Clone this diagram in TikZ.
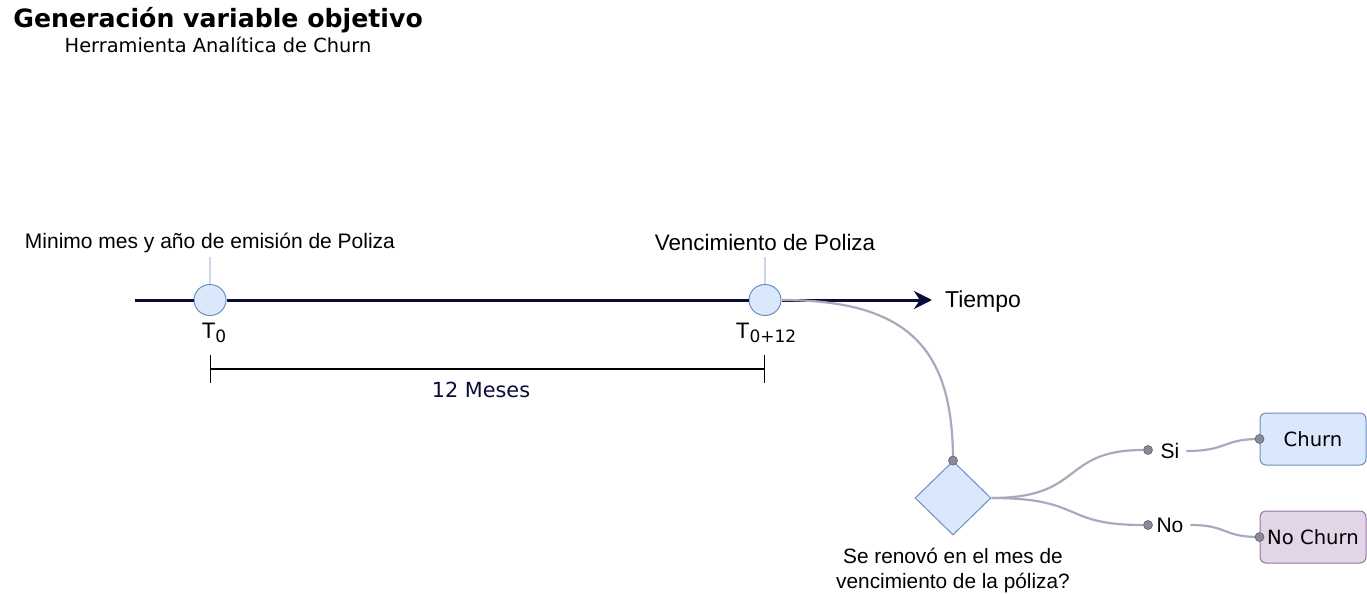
\documentclass[tikz,border=0pt]{standalone}
\usepackage{fontspec}
\setmainfont{Liberation Sans}
\newfontfamily\verd{DejaVu Sans}
\usetikzlibrary{arrows.meta, shapes.geometric, positioning}
\definecolor{navy}{RGB}{12,12,58}
\definecolor{bluefill}{HTML}{DAE8FC}
\definecolor{bluedraw}{HTML}{6C8EBF}
\definecolor{lilafill}{HTML}{E1D5E7}
\definecolor{liladraw}{HTML}{9673A6}
\definecolor{linkgray}{RGB}{172,168,188}
\definecolor{dotgray}{RGB}{140,136,155}
\definecolor{ticklite}{RGB}{205,215,230}
\newcommand{\fs}[1]{\fontsize{#1}{1.2\dimexpr#1pt\relax}\selectfont}

\begin{document}
\begin{tikzpicture}[x=0.5pt, y=-0.5pt,
  hito/.style={ellipse, draw=bluedraw, fill=bluefill, minimum width=16pt, minimum height=15.5pt, inner sep=0pt, line width=0.5pt},
  link/.style={draw=linkgray, line width=1.1pt},
  enddot/.style={circle, fill=dotgray, draw=dotgray!70!black, inner sep=0pt, minimum size=4.5pt, line width=0.3pt},
  caja/.style={rounded corners=3pt, minimum width=53pt, minimum height=26pt, line width=0.5pt, font=\verd\fs{9.8}},
  txt/.style={font=\fs{10.5}}]
\useasboundingbox (0,0) rectangle (1367,594);
\node[anchor=base west, inner sep=0pt, font=\verd\bfseries\fs{12.6}] (titulo) at (13,27) {Generación variable objetivo};
\node[anchor=base, inner sep=0pt, font=\verd\fs{9.7}] (subtitulo) at (218,52) {Herramienta Analítica de Churn};
\node[hito] (T0) at (210,300) {};
\node[hito] (T12) at (765,300) {};
\coordinate (ini) at (135,300);
\coordinate (fin) at (932,300);
\draw[navy, line width=1.5pt] (ini) -- (T0) -- (T12);
\draw[navy, line width=1.5pt, -{Stealth[length=9pt, width=9pt]}] (T12) -- (fin);
\node[right=3pt of fin, font=\fs{11.5}] (tiempo) at ([yshift=-1pt]fin) {Tiempo};
\node[font=\fs{10.5}] (lab0) at (210,243) {Minimo mes y año de emisión de Poliza};
\node[font=\fs{11.2}] (lab12) at (765,242) {Vencimiento de Poliza};
\coordinate (p0) at (210,257);
\coordinate (p12) at (765,257);
\draw[ticklite, line width=1pt] (p0) -- (T0.north);
\draw[ticklite, line width=1pt] (p12) -- (T12.north);
\node[font=\fs{11.2}] (t0) at (214,333) {T\raisebox{-0.3ex}{\verd\fs{8.5}0}};
\node[font=\fs{11.2}] (t12) at (766,333) {T\raisebox{-0.3ex}{\verd\fs{8.5}0+12}};
\coordinate (d0) at (210,369);
\coordinate (d12) at (765,369);
\draw[line width=0.6pt, {Bar[width=14pt]}-{Bar[width=14pt]}] (d0) -- (d12);
\node[navy, font=\verd\fs{10.4}] (meses) at (481,390) {12 Meses};
\node[diamond, draw=bluedraw, fill=bluefill, minimum width=38pt, minimum height=37pt, inner sep=0pt, line width=0.5pt] (rombo) at (953,498) {};
\node[below=3pt of rombo, align=center, font=\fs{10.4}] (pregunta) {Se renovó en el mes de\\vencimiento de la póliza?};
\draw[link] (T12.east) .. controls (910,300) and (953,350) .. (rombo.north);
\node[enddot] (dtop) at (rombo.north) {};
\node[enddot] (dsi) at (1148,450) {};
\node[enddot] (dno) at (1148,525) {};
\node[txt] (si) at (1170,451) {Si};
\node[txt] (no) at (1170,525) {No};
\draw[link] (rombo.east) .. controls (1085,498) and (1060,450) .. (dsi);
\draw[link] (rombo.east) .. controls (1085,498) and (1060,525) .. (dno);
\node[caja, draw=bluedraw, fill=bluefill] (churn) at (1313,439) {Churn};
\node[caja, draw=liladraw, fill=lilafill] (nochurn) at (1313,537) {No Churn};
\draw[link] (si.east) .. controls (1228,451) and (1222,439) .. (churn.west);
\draw[link] (no.east) .. controls (1228,525) and (1222,537) .. (nochurn.west);
\node[enddot] (dchurn) at (churn.west) {};
\node[enddot] (dnochurn) at (nochurn.west) {};
\end{tikzpicture}
\end{document}
